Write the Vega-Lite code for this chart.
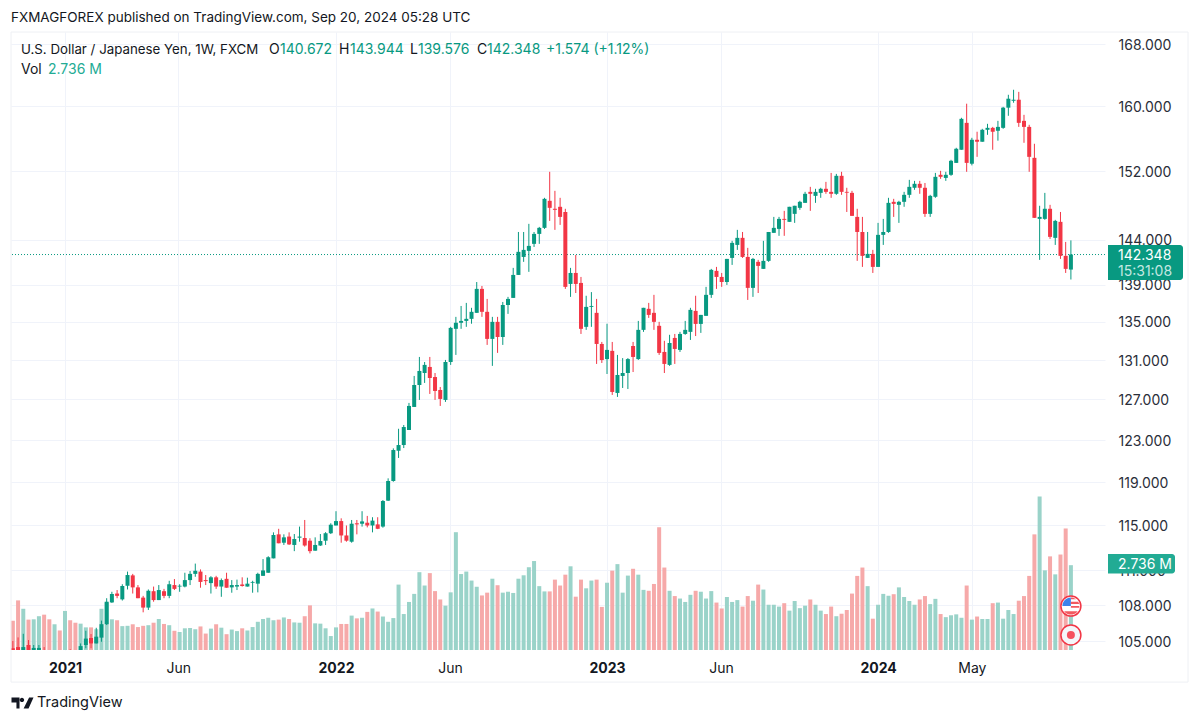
{"$schema":"https://vega.github.io/schema/vega-lite/v6.json","autosize":{"type":"none"},"width":1094,"height":618,"padding":{"left":11,"top":32,"right":95,"bottom":72},"background":"#ffffff","title":{"text":"FXMAGFOREX published on TradingView.com, Sep 20, 2024 05:28 UTC","anchor":"start","frame":"group","offset":7,"font":"Inter","fontSize":13.5,"fontWeight":"normal","color":"#131722"},"config":{"view":{"stroke":null},"text":{"font":"Inter","fontSize":14,"align":"left","baseline":"middle"}},"datasets":{"candles":[
{"t":"2020-10-26","o":104.4,"h":105.0,"l":103.6,"c":104.0,"v":0.94},
{"t":"2020-11-02","o":104.5,"h":105.3,"l":103.5,"c":103.9,"v":1.60},
{"t":"2020-11-09","o":103.9,"h":105.6,"l":103.6,"c":104.5,"v":1.33},
{"t":"2020-11-16","o":104.67,"h":105.08,"l":103.6,"c":104.0,"v":0.98},
{"t":"2020-11-23","o":103.9,"h":104.67,"l":103.5,"c":104.43,"v":0.99},
{"t":"2020-11-30","o":103.9,"h":104.67,"l":103.5,"c":104.43,"v":1.09},
{"t":"2020-12-07","o":104.1,"h":104.5,"l":103.4,"c":103.7,"v":1.14},
{"t":"2020-12-14","o":103.8,"h":104.0,"l":103.0,"c":103.3,"v":0.99},
{"t":"2020-12-21","o":103.3,"h":104.0,"l":103.0,"c":103.7,"v":0.83},
{"t":"2020-12-28","o":103.6,"h":103.9,"l":102.9,"c":103.2,"v":0.63},
{"t":"2021-01-04","o":103.1,"h":104.0,"l":102.8,"c":103.6,"v":1.26},
{"t":"2021-01-11","o":104.0,"h":104.32,"l":103.1,"c":103.4,"v":0.96},
{"t":"2021-01-18","o":103.7,"h":104.0,"l":103.0,"c":103.3,"v":0.88},
{"t":"2021-01-25","o":104.0,"h":104.8,"l":103.8,"c":104.58,"v":0.85},
{"t":"2021-02-01","o":104.67,"h":105.85,"l":104.4,"c":105.2,"v":0.73},
{"t":"2021-02-08","o":105.25,"h":105.58,"l":104.4,"c":104.8,"v":0.73},
{"t":"2021-02-15","o":104.8,"h":106.1,"l":104.8,"c":105.36,"v":0.67},
{"t":"2021-02-22","o":105.28,"h":106.7,"l":104.94,"c":106.4,"v":1.33},
{"t":"2021-03-01","o":106.4,"h":108.6,"l":106.33,"c":108.3,"v":1.53},
{"t":"2021-03-08","o":108.24,"h":109.15,"l":108.2,"c":108.96,"v":0.99},
{"t":"2021-03-15","o":109.0,"h":109.3,"l":108.6,"c":108.8,"v":0.96},
{"t":"2021-03-22","o":108.5,"h":109.8,"l":108.4,"c":109.65,"v":0.77},
{"t":"2021-03-29","o":109.67,"h":110.9,"l":109.35,"c":110.6,"v":0.78},
{"t":"2021-04-05","o":110.57,"h":110.7,"l":109.0,"c":109.53,"v":0.83},
{"t":"2021-04-12","o":109.53,"h":109.73,"l":108.6,"c":108.6,"v":0.74},
{"t":"2021-04-19","o":108.65,"h":108.8,"l":107.4,"c":107.8,"v":0.78},
{"t":"2021-04-26","o":107.8,"h":109.35,"l":107.6,"c":109.24,"v":0.80},
{"t":"2021-05-03","o":109.2,"h":109.6,"l":108.3,"c":108.44,"v":0.88},
{"t":"2021-05-10","o":108.44,"h":109.73,"l":108.44,"c":109.3,"v":1.00},
{"t":"2021-05-17","o":109.2,"h":109.4,"l":108.6,"c":108.8,"v":0.84},
{"t":"2021-05-24","o":108.8,"h":110.1,"l":108.6,"c":109.8,"v":0.80},
{"t":"2021-05-31","o":109.73,"h":110.25,"l":109.3,"c":109.4,"v":0.62},
{"t":"2021-06-07","o":109.6,"h":109.8,"l":109.15,"c":109.67,"v":0.58},
{"t":"2021-06-14","o":109.6,"h":110.8,"l":109.53,"c":110.16,"v":0.70},
{"t":"2021-06-21","o":110.16,"h":110.95,"l":109.73,"c":110.7,"v":0.71},
{"t":"2021-06-28","o":110.7,"h":111.6,"l":110.45,"c":110.97,"v":0.67},
{"t":"2021-07-05","o":110.9,"h":111.09,"l":109.5,"c":110.0,"v":0.76},
{"t":"2021-07-12","o":110.16,"h":110.6,"l":109.73,"c":110.07,"v":0.53},
{"t":"2021-07-19","o":109.9,"h":110.5,"l":109.0,"c":110.4,"v":0.69},
{"t":"2021-07-26","o":110.4,"h":110.53,"l":109.4,"c":109.6,"v":0.83},
{"t":"2021-08-02","o":109.6,"h":110.3,"l":108.72,"c":110.16,"v":0.72},
{"t":"2021-08-09","o":110.27,"h":110.8,"l":109.5,"c":109.5,"v":0.51},
{"t":"2021-08-16","o":109.53,"h":110.16,"l":109.07,"c":109.73,"v":0.66},
{"t":"2021-08-23","o":109.6,"h":110.2,"l":109.3,"c":109.73,"v":0.61},
{"t":"2021-08-30","o":109.78,"h":110.4,"l":109.6,"c":109.65,"v":0.70},
{"t":"2021-09-06","o":109.6,"h":110.37,"l":109.6,"c":109.85,"v":0.63},
{"t":"2021-09-13","o":109.93,"h":110.1,"l":109.07,"c":110.0,"v":0.74},
{"t":"2021-09-20","o":109.85,"h":110.8,"l":109.1,"c":110.7,"v":0.91},
{"t":"2021-09-27","o":110.53,"h":112.0,"l":110.53,"c":111.0,"v":1.00},
{"t":"2021-10-04","o":110.8,"h":112.25,"l":110.8,"c":112.17,"v":1.04},
{"t":"2021-10-11","o":112.06,"h":114.38,"l":112.06,"c":114.14,"v":0.96},
{"t":"2021-10-18","o":114.2,"h":114.7,"l":113.4,"c":113.4,"v":0.98},
{"t":"2021-10-25","o":113.45,"h":114.2,"l":113.25,"c":113.93,"v":1.05},
{"t":"2021-11-01","o":114.0,"h":114.38,"l":113.25,"c":113.3,"v":1.00},
{"t":"2021-11-08","o":113.25,"h":114.23,"l":112.7,"c":113.78,"v":0.89},
{"t":"2021-11-15","o":113.9,"h":114.9,"l":113.54,"c":114.0,"v":0.88},
{"t":"2021-11-22","o":113.87,"h":115.5,"l":113.1,"c":113.2,"v":1.09},
{"t":"2021-11-29","o":113.63,"h":113.85,"l":112.5,"c":112.7,"v":1.44},
{"t":"2021-12-06","o":112.74,"h":113.93,"l":112.74,"c":113.25,"v":0.86},
{"t":"2021-12-13","o":113.2,"h":114.23,"l":113.16,"c":113.6,"v":0.85},
{"t":"2021-12-20","o":113.63,"h":114.4,"l":113.25,"c":114.3,"v":0.70},
{"t":"2021-12-27","o":114.3,"h":115.2,"l":114.23,"c":115.07,"v":0.45},
{"t":"2022-01-03","o":115.0,"h":116.3,"l":115.0,"c":115.4,"v":0.73},
{"t":"2022-01-10","o":115.4,"h":115.65,"l":113.45,"c":114.1,"v":0.84},
{"t":"2022-01-17","o":114.1,"h":115.0,"l":113.54,"c":113.63,"v":0.84},
{"t":"2022-01-24","o":113.54,"h":115.5,"l":113.45,"c":115.16,"v":1.11},
{"t":"2022-01-31","o":115.2,"h":115.5,"l":114.2,"c":115.1,"v":1.02},
{"t":"2022-02-07","o":115.16,"h":116.3,"l":114.9,"c":115.37,"v":1.04},
{"t":"2022-02-14","o":115.25,"h":115.87,"l":114.83,"c":115.0,"v":1.23},
{"t":"2022-02-21","o":115.0,"h":115.75,"l":114.38,"c":115.44,"v":1.34},
{"t":"2022-02-28","o":115.1,"h":115.75,"l":114.67,"c":114.7,"v":1.24},
{"t":"2022-03-07","o":114.9,"h":117.33,"l":114.8,"c":117.24,"v":1.08},
{"t":"2022-03-14","o":117.27,"h":119.35,"l":117.24,"c":119.1,"v":0.91},
{"t":"2022-03-21","o":119.1,"h":122.2,"l":119.03,"c":122.04,"v":1.03},
{"t":"2022-03-28","o":121.97,"h":124.1,"l":121.28,"c":122.52,"v":2.11},
{"t":"2022-04-04","o":122.52,"h":124.47,"l":122.23,"c":124.27,"v":1.16},
{"t":"2022-04-11","o":123.98,"h":126.65,"l":123.98,"c":126.35,"v":1.55},
{"t":"2022-04-18","o":126.25,"h":129.37,"l":126.25,"c":128.45,"v":1.81},
{"t":"2022-04-25","o":128.45,"h":131.32,"l":126.95,"c":129.88,"v":2.51},
{"t":"2022-05-02","o":129.67,"h":130.8,"l":128.66,"c":130.5,"v":2.08},
{"t":"2022-05-09","o":130.29,"h":131.32,"l":127.55,"c":129.16,"v":2.48},
{"t":"2022-05-16","o":129.26,"h":129.67,"l":126.95,"c":127.85,"v":1.90},
{"t":"2022-05-23","o":127.95,"h":128.25,"l":126.35,"c":127.05,"v":1.63},
{"t":"2022-05-30","o":126.95,"h":131.01,"l":126.75,"c":130.8,"v":1.43},
{"t":"2022-06-06","o":130.8,"h":134.47,"l":130.5,"c":134.36,"v":1.86},
{"t":"2022-06-13","o":134.26,"h":135.53,"l":131.53,"c":134.9,"v":3.80},
{"t":"2022-06-20","o":134.9,"h":136.7,"l":134.26,"c":135.1,"v":2.45},
{"t":"2022-06-27","o":135.1,"h":137.03,"l":134.47,"c":135.32,"v":2.53},
{"t":"2022-07-04","o":135.32,"h":136.5,"l":134.8,"c":136.07,"v":2.24},
{"t":"2022-07-11","o":135.96,"h":139.3,"l":135.96,"c":138.55,"v":2.04},
{"t":"2022-07-18","o":138.55,"h":138.87,"l":135.53,"c":136.07,"v":1.76},
{"t":"2022-07-25","o":136.07,"h":137.46,"l":132.57,"c":133.2,"v":1.85},
{"t":"2022-08-01","o":133.2,"h":135.53,"l":130.4,"c":135.0,"v":2.30},
{"t":"2022-08-08","o":135.0,"h":135.53,"l":131.74,"c":133.4,"v":2.09},
{"t":"2022-08-15","o":133.4,"h":137.13,"l":132.57,"c":136.8,"v":1.85},
{"t":"2022-08-22","o":136.8,"h":137.68,"l":135.85,"c":137.46,"v":1.88},
{"t":"2022-08-29","o":137.57,"h":140.86,"l":137.57,"c":140.08,"v":1.84},
{"t":"2022-09-05","o":140.08,"h":144.9,"l":140.08,"c":142.65,"v":2.30},
{"t":"2022-09-12","o":142.08,"h":144.9,"l":141.53,"c":142.87,"v":2.41},
{"t":"2022-09-19","o":142.76,"h":145.83,"l":140.42,"c":143.32,"v":2.67},
{"t":"2022-09-26","o":143.55,"h":144.9,"l":143.2,"c":144.68,"v":2.87},
{"t":"2022-10-03","o":144.68,"h":145.48,"l":143.55,"c":145.37,"v":2.06},
{"t":"2022-10-10","o":145.37,"h":148.85,"l":145.25,"c":148.73,"v":1.89},
{"t":"2022-10-17","o":148.5,"h":151.93,"l":146.17,"c":147.68,"v":1.89},
{"t":"2022-10-24","o":147.57,"h":149.67,"l":145.14,"c":147.45,"v":2.27},
{"t":"2022-10-31","o":147.8,"h":148.85,"l":145.71,"c":146.63,"v":2.08},
{"t":"2022-11-07","o":147.2,"h":147.57,"l":138.55,"c":138.77,"v":2.43},
{"t":"2022-11-14","o":139.09,"h":140.86,"l":137.68,"c":140.3,"v":2.70},
{"t":"2022-11-21","o":140.3,"h":142.3,"l":138.1,"c":139.09,"v":1.72},
{"t":"2022-11-28","o":139.2,"h":139.86,"l":133.72,"c":134.26,"v":2.27},
{"t":"2022-12-05","o":134.47,"h":137.8,"l":134.15,"c":136.6,"v":1.99},
{"t":"2022-12-12","o":136.6,"h":138.2,"l":134.47,"c":136.7,"v":2.24},
{"t":"2022-12-19","o":135.96,"h":137.46,"l":130.6,"c":132.67,"v":2.27},
{"t":"2022-12-26","o":132.67,"h":132.88,"l":130.7,"c":131.0,"v":1.39},
{"t":"2023-01-02","o":131.1,"h":134.8,"l":129.57,"c":132.05,"v":2.17},
{"t":"2023-01-09","o":131.95,"h":132.88,"l":127.45,"c":127.75,"v":2.56},
{"t":"2023-01-16","o":127.65,"h":131.53,"l":127.25,"c":129.47,"v":2.77},
{"t":"2023-01-23","o":129.37,"h":131.2,"l":128.15,"c":129.67,"v":1.85},
{"t":"2023-01-30","o":129.67,"h":131.2,"l":128.05,"c":131.1,"v":2.40},
{"t":"2023-02-06","o":132.46,"h":132.88,"l":129.77,"c":131.32,"v":2.62},
{"t":"2023-02-13","o":131.1,"h":135.1,"l":131.01,"c":134.15,"v":2.43},
{"t":"2023-02-20","o":134.15,"h":136.5,"l":133.94,"c":136.5,"v":1.94},
{"t":"2023-02-27","o":136.39,"h":137.03,"l":135.42,"c":135.74,"v":1.91},
{"t":"2023-03-06","o":135.96,"h":137.9,"l":134.15,"c":135.0,"v":2.13},
{"t":"2023-03-13","o":134.58,"h":135.0,"l":131.53,"c":131.74,"v":3.96},
{"t":"2023-03-20","o":131.84,"h":133.0,"l":129.67,"c":130.6,"v":2.66},
{"t":"2023-03-27","o":130.5,"h":133.63,"l":130.4,"c":132.77,"v":1.91},
{"t":"2023-04-03","o":133.3,"h":133.72,"l":130.6,"c":132.15,"v":1.74},
{"t":"2023-04-10","o":132.05,"h":133.94,"l":131.84,"c":133.72,"v":1.66},
{"t":"2023-04-17","o":133.72,"h":135.1,"l":133.63,"c":134.15,"v":1.55},
{"t":"2023-04-24","o":133.94,"h":136.5,"l":133.09,"c":136.28,"v":1.78},
{"t":"2023-05-01","o":136.17,"h":137.8,"l":133.5,"c":134.78,"v":1.91},
{"t":"2023-05-08","o":134.78,"h":135.74,"l":133.83,"c":135.74,"v":1.88},
{"t":"2023-05-15","o":135.64,"h":138.77,"l":135.64,"c":137.9,"v":1.66},
{"t":"2023-05-22","o":137.9,"h":140.75,"l":137.57,"c":140.64,"v":1.90},
{"t":"2023-05-29","o":140.53,"h":140.97,"l":138.55,"c":139.86,"v":1.53},
{"t":"2023-06-05","o":139.86,"h":140.3,"l":138.77,"c":139.3,"v":1.34},
{"t":"2023-06-12","o":139.3,"h":141.86,"l":138.98,"c":141.86,"v":1.71},
{"t":"2023-06-19","o":141.97,"h":143.89,"l":141.19,"c":143.66,"v":1.55},
{"t":"2023-06-26","o":143.43,"h":145.14,"l":142.87,"c":144.23,"v":1.61},
{"t":"2023-07-03","o":144.23,"h":144.9,"l":141.97,"c":142.08,"v":1.40},
{"t":"2023-07-10","o":142.08,"h":143.1,"l":137.35,"c":138.66,"v":1.74},
{"t":"2023-07-17","o":138.66,"h":141.97,"l":137.68,"c":141.86,"v":1.59},
{"t":"2023-07-24","o":141.53,"h":141.75,"l":138.1,"c":141.08,"v":2.11},
{"t":"2023-07-31","o":140.75,"h":143.89,"l":140.75,"c":141.64,"v":1.95},
{"t":"2023-08-07","o":141.64,"h":144.9,"l":141.53,"c":144.9,"v":1.46},
{"t":"2023-08-14","o":144.8,"h":146.63,"l":144.8,"c":145.37,"v":1.46},
{"t":"2023-08-21","o":145.25,"h":146.63,"l":144.46,"c":146.4,"v":1.40},
{"t":"2023-08-28","o":146.4,"h":147.33,"l":144.46,"c":146.29,"v":1.51},
{"t":"2023-09-04","o":146.06,"h":147.8,"l":146.06,"c":147.8,"v":1.27},
{"t":"2023-09-11","o":146.98,"h":147.92,"l":145.94,"c":147.92,"v":1.58},
{"t":"2023-09-18","o":147.68,"h":148.5,"l":147.45,"c":148.38,"v":1.35},
{"t":"2023-09-25","o":148.26,"h":149.55,"l":148.26,"c":149.32,"v":1.43},
{"t":"2023-10-02","o":149.55,"h":150.14,"l":147.33,"c":149.32,"v":1.63},
{"t":"2023-10-09","o":149.08,"h":149.91,"l":148.26,"c":149.55,"v":1.46},
{"t":"2023-10-16","o":149.43,"h":150.03,"l":148.85,"c":149.91,"v":1.27},
{"t":"2023-10-23","o":149.91,"h":150.73,"l":149.32,"c":149.55,"v":1.16},
{"t":"2023-10-30","o":149.55,"h":151.8,"l":148.85,"c":149.32,"v":1.40},
{"t":"2023-11-06","o":149.32,"h":151.68,"l":149.2,"c":151.45,"v":1.09},
{"t":"2023-11-13","o":151.45,"h":151.93,"l":149.2,"c":149.55,"v":1.17},
{"t":"2023-11-20","o":149.55,"h":150.03,"l":147.2,"c":149.45,"v":1.29},
{"t":"2023-11-27","o":149.43,"h":149.67,"l":146.75,"c":146.75,"v":1.82},
{"t":"2023-12-04","o":146.63,"h":147.57,"l":141.64,"c":144.9,"v":2.39},
{"t":"2023-12-11","o":144.9,"h":146.63,"l":140.97,"c":142.2,"v":2.66},
{"t":"2023-12-18","o":141.97,"h":144.9,"l":141.97,"c":142.42,"v":2.06},
{"t":"2023-12-25","o":142.42,"h":142.87,"l":140.3,"c":140.97,"v":1.01},
{"t":"2024-01-01","o":140.97,"h":145.94,"l":140.97,"c":144.57,"v":1.46},
{"t":"2024-01-08","o":144.57,"h":146.4,"l":143.43,"c":144.9,"v":1.81},
{"t":"2024-01-15","o":144.9,"h":148.85,"l":144.8,"c":148.26,"v":1.75},
{"t":"2024-01-22","o":148.38,"h":148.73,"l":146.63,"c":148.14,"v":1.80},
{"t":"2024-01-29","o":148.03,"h":148.5,"l":145.94,"c":148.38,"v":2.02},
{"t":"2024-02-05","o":148.38,"h":149.55,"l":147.8,"c":149.2,"v":1.71},
{"t":"2024-02-12","o":149.2,"h":150.97,"l":148.85,"c":150.14,"v":1.58},
{"t":"2024-02-19","o":150.03,"h":150.85,"l":149.79,"c":150.5,"v":1.46},
{"t":"2024-02-26","o":150.5,"h":150.85,"l":149.32,"c":150.03,"v":1.63},
{"t":"2024-03-04","o":150.03,"h":150.6,"l":146.63,"c":146.98,"v":1.74},
{"t":"2024-03-11","o":146.98,"h":149.2,"l":146.63,"c":149.08,"v":1.48},
{"t":"2024-03-18","o":148.97,"h":151.8,"l":148.85,"c":151.33,"v":1.65},
{"t":"2024-03-25","o":151.57,"h":152.05,"l":151.09,"c":151.33,"v":1.16},
{"t":"2024-04-01","o":151.2,"h":151.93,"l":150.85,"c":151.57,"v":1.06},
{"t":"2024-04-08","o":151.57,"h":153.37,"l":151.45,"c":153.25,"v":1.12},
{"t":"2024-04-15","o":153.0,"h":154.83,"l":153.0,"c":154.71,"v":1.15},
{"t":"2024-04-22","o":154.59,"h":158.53,"l":154.59,"c":158.4,"v":1.04},
{"t":"2024-04-29","o":157.9,"h":160.3,"l":151.93,"c":153.0,"v":2.08},
{"t":"2024-05-06","o":152.9,"h":156.05,"l":152.7,"c":155.81,"v":0.98},
{"t":"2024-05-13","o":155.81,"h":156.8,"l":153.73,"c":155.57,"v":1.08},
{"t":"2024-05-20","o":155.57,"h":157.16,"l":155.57,"c":157.04,"v":1.00},
{"t":"2024-05-27","o":157.04,"h":157.78,"l":156.42,"c":157.28,"v":1.00},
{"t":"2024-06-03","o":157.28,"h":157.4,"l":154.59,"c":156.8,"v":1.51},
{"t":"2024-06-10","o":156.92,"h":158.15,"l":155.7,"c":157.4,"v":1.53},
{"t":"2024-06-17","o":157.28,"h":159.9,"l":157.16,"c":159.8,"v":1.01},
{"t":"2024-06-24","o":159.8,"h":161.43,"l":158.78,"c":160.93,"v":1.29},
{"t":"2024-07-01","o":160.67,"h":162.07,"l":160.42,"c":160.8,"v":1.16},
{"t":"2024-07-08","o":160.8,"h":161.8,"l":157.4,"c":157.9,"v":1.59},
{"t":"2024-07-15","o":158.15,"h":158.9,"l":155.44,"c":157.4,"v":1.74},
{"t":"2024-07-22","o":157.4,"h":157.66,"l":151.93,"c":153.73,"v":2.39},
{"t":"2024-07-29","o":153.61,"h":155.32,"l":146.52,"c":146.52,"v":3.73},
{"t":"2024-08-05","o":146.4,"h":147.92,"l":141.75,"c":146.63,"v":4.95},
{"t":"2024-08-12","o":146.4,"h":149.43,"l":146.29,"c":147.57,"v":2.57},
{"t":"2024-08-19","o":147.57,"h":148.03,"l":144.11,"c":144.34,"v":3.02},
{"t":"2024-08-26","o":144.23,"h":146.29,"l":143.43,"c":146.17,"v":2.44},
{"t":"2024-09-02","o":146.06,"h":147.2,"l":141.86,"c":142.2,"v":3.08},
{"t":"2024-09-09","o":142.2,"h":143.77,"l":140.3,"c":140.75,"v":3.92},
{"t":"2024-09-16","o":140.672,"h":143.944,"l":139.576,"c":142.348,"v":2.736}
]},
"layer":[
{"data":{"values":[{"last":142.348}]},"mark":{"type":"rule","color":"#089981","strokeWidth":1,"strokeDash":[1,2]},"encoding":{"y":{"field":"last","type":"quantitative","title":null,"scale":{"type":"log","domain":[104.26,169.61],"nice":false,"zero":false},"axis":{"orient":"right","values":[105,108,111,115,119,123,127,131,135,139,144,152,160,168],"format":".3f","grid":true,"gridColor":"#f0f3fa","gridWidth":1,"ticks":false,"domain":false,"labelPadding":13,"labelOffset":1,"labelFont":"Inter","labelFontSize":14,"labelColor":"#2a2e39","labelBound":false,"labelOverlap":false,"title":null}}}},
{"data":{"name":"candles"},"mark":{"type":"bar","width":4},"encoding":{"x":{"field":"t","type":"temporal","title":null,"scale":{"type":"utc","domain":[1603454400000,1730401920000],"nice":false,"padding":0},"axis":{"values":[1609718400000,1622851200000,1641168000000,1654387200000,1672617600000,1685836800000,1704067200000,1714953600000],"grid":true,"gridColor":"#f0f3fa","gridWidth":1,"ticks":false,"domain":false,"labelPadding":11,"labelFont":"Inter","labelFontSize":14,"labelColor":"#131722","labelFontWeight":{"expr":"utcmonth(datum.value)==0?'bold':'normal'"},"labelExpr":"utcmonth(datum.value)==0?utcFormat(datum.value,'%Y'):utcFormat(datum.value,'%b')","labelOverlap":false,"title":null}},"y":{"field":"v","type":"quantitative","title":null,"scale":{"domain":[0,19.935],"nice":false,"zero":false},"axis":null},"color":{"condition":{"test":"datum.c>=datum.o","value":"#9ad3c9"},"value":"#f6a9a9"}}},
{"layer":[
{"data":{"name":"candles"},"mark":{"type":"rule","strokeWidth":1,"clip":true},"encoding":{"x":{"field":"t","type":"temporal","title":null},"y":{"field":"l","type":"quantitative","title":null,"scale":{"type":"log","domain":[104.26,169.61],"nice":false,"zero":false},"axis":null},"y2":{"field":"h"},"color":{"condition":{"test":"datum.c>=datum.o","value":"#089981"},"value":"#f23645"}}},
{"data":{"name":"candles"},"mark":{"type":"bar","width":4,"clip":true},"encoding":{"x":{"field":"t","type":"temporal","title":null},"y":{"field":"o","type":"quantitative","title":null},"y2":{"field":"c"},"color":{"condition":{"test":"datum.c>=datum.o","value":"#089981"},"value":"#f23645"}}},
{"data":{"values":[{"edge":"left"}]},"mark":{"type":"rule","color":"#eef0f4"},"encoding":{"x":{"datum":1603454400000,"type":"temporal"},"y":{"datum":169.61,"type":"quantitative"},"y2":{"datum":101.66}}},
{"data":{"values":[{"edge":"right"}]},"mark":{"type":"rule","color":"#eef0f4"},"encoding":{"x":{"datum":1740033480000,"type":"temporal"},"y":{"datum":169.61,"type":"quantitative"},"y2":{"datum":101.66}}},
{"data":{"values":[{"edge":"top"}]},"mark":{"type":"rule","color":"#eef0f4"},"encoding":{"x":{"datum":1603454400000,"type":"temporal"},"x2":{"datum":1740033480000},"y":{"datum":169.61,"type":"quantitative"}}},
{"data":{"values":[{"edge":"bottom"}]},"mark":{"type":"rule","color":"#eef0f4"},"encoding":{"x":{"datum":1603454400000,"type":"temporal"},"x2":{"datum":1740033480000},"y":{"datum":101.66,"type":"quantitative"}}},
{"data":{"values":[{"tag":"price"}]},"mark":{"type":"rect","color":"#089981","cornerRadiusTopRight":3,"cornerRadiusBottomRight":3},"encoding":{"x":{"datum":1730750280000,"type":"temporal"},"x2":{"datum":1739453280000},"y":{"datum":143.42,"type":"quantitative"},"y2":{"datum":139.52}}},
{"data":{"values":[{"tag":"volume"}]},"mark":{"type":"rect","color":"#22ab94","cornerRadiusTopRight":3,"cornerRadiusBottomRight":3},"encoding":{"x":{"datum":1730750280000,"type":"temporal"},"x2":{"datum":1738524960000},"y":{"datum":112.44,"type":"quantitative"},"y2":{"datum":110.73}}},
{"data":{"values":[{"label":"142.348"}]},"mark":{"type":"text","color":"#ffffff"},"encoding":{"x":{"datum":1731910680000,"type":"temporal"},"y":{"datum":142.18,"type":"quantitative"},"text":{"field":"label"}}},
{"data":{"values":[{"label":"15:31:08"}]},"mark":{"type":"text","color":"#c4e8e1"},"encoding":{"x":{"datum":1731910680000,"type":"temporal"},"y":{"datum":140.35,"type":"quantitative"},"text":{"field":"label"}}},
{"data":{"values":[{"label":"2.736 M"}]},"mark":{"type":"text","color":"#ffffff"},"encoding":{"x":{"datum":1731910680000,"type":"temporal"},"y":{"datum":111.47,"type":"quantitative"},"text":{"field":"label"}}},
{"data":{"values":[{"label":"U.S. Dollar / Japanese Yen, 1W, FXCM"}]},"mark":{"type":"text","color":"#131722","fontSize":13.3},"encoding":{"x":{"datum":1604614800000,"type":"temporal"},"y":{"datum":167.22,"type":"quantitative"},"text":{"field":"label"}}},
{"data":{"values":[{"label":"O"}]},"mark":{"type":"text","color":"#131722"},"encoding":{"x":{"datum":1633392720000,"type":"temporal"},"y":{"datum":167.22,"type":"quantitative"},"text":{"field":"label"}}},
{"data":{"values":[{"label":"140.672"}]},"mark":{"type":"text","color":"#089981"},"encoding":{"x":{"datum":1634669160000,"type":"temporal"},"y":{"datum":167.22,"type":"quantitative"},"text":{"field":"label"}}},
{"data":{"values":[{"label":"H"}]},"mark":{"type":"text","color":"#131722"},"encoding":{"x":{"datum":1641515520000,"type":"temporal"},"y":{"datum":167.22,"type":"quantitative"},"text":{"field":"label"}}},
{"data":{"values":[{"label":"143.944"}]},"mark":{"type":"text","color":"#089981"},"encoding":{"x":{"datum":1642791960000,"type":"temporal"},"y":{"datum":167.22,"type":"quantitative"},"text":{"field":"label"}}},
{"data":{"values":[{"label":"L"}]},"mark":{"type":"text","color":"#131722"},"encoding":{"x":{"datum":1649754360000,"type":"temporal"},"y":{"datum":167.22,"type":"quantitative"},"text":{"field":"label"}}},
{"data":{"values":[{"label":"139.576"}]},"mark":{"type":"text","color":"#089981"},"encoding":{"x":{"datum":1650682680000,"type":"temporal"},"y":{"datum":167.22,"type":"quantitative"},"text":{"field":"label"}}},
{"data":{"values":[{"label":"C"}]},"mark":{"type":"text","color":"#131722"},"encoding":{"x":{"datum":1657529040000,"type":"temporal"},"y":{"datum":167.22,"type":"quantitative"},"text":{"field":"label"}}},
{"data":{"values":[{"label":"142.348"}]},"mark":{"type":"text","color":"#089981"},"encoding":{"x":{"datum":1658689440000,"type":"temporal"},"y":{"datum":167.22,"type":"quantitative"},"text":{"field":"label"}}},
{"data":{"values":[{"label":"+1.574 (+1.12%)"}]},"mark":{"type":"text","color":"#089981"},"encoding":{"x":{"datum":1665535800000,"type":"temporal"},"y":{"datum":167.22,"type":"quantitative"},"text":{"field":"label"}}},
{"data":{"values":[{"label":"Vol"}]},"mark":{"type":"text","color":"#131722"},"encoding":{"x":{"datum":1604614800000,"type":"temporal"},"y":{"datum":164.61,"type":"quantitative"},"text":{"field":"label"}}},
{"data":{"values":[{"label":"2.736 M"}]},"mark":{"type":"text","color":"#22ab94"},"encoding":{"x":{"datum":1607747880000,"type":"temporal"},"y":{"datum":164.61,"type":"quantitative"},"text":{"field":"label"}}},
{"data":{"values":[{"label":"TradingView"}]},"mark":{"type":"text","color":"#131722","fontSize":14.5},"encoding":{"x":{"datum":1606471440000,"type":"temporal"},"y":{"datum":100.0,"type":"quantitative"},"text":{"field":"label"}}},
{"data":{"values":[{"icon":"logo"}]},"mark":{"type":"point","filled":true,"color":"#131722","opacity":1,"size":484,"shape":"M-1,-0.5 L-0.27,-0.5 L-0.27,0.5 L-0.55,0.5 L-0.55,-0.05 L-1,-0.05 Z M-0.25,-0.28 A0.2,0.2 0 1 1 0.15,-0.28 A0.2,0.2 0 1 1 -0.25,-0.28 Z M0.6,-0.5 L1,-0.5 L0.55,0.5 L0.1,0.5 Z"},"encoding":{"x":{"datum":1604788860000,"type":"temporal"},"y":{"datum":100.0,"type":"quantitative"}}},
{"data":{"values":[{"icon":"us"}]},"mark":{"type":"point","shape":"circle","filled":true,"fill":"#ffffff","stroke":"#f23645","strokeWidth":1.5,"opacity":1,"size":400},"encoding":{"x":{"datum":1726444800000,"type":"temporal"},"y":{"datum":107.93,"type":"quantitative"}}},
{"data":{"values":[{"icon":"us-canton"}]},"mark":{"type":"point","filled":true,"color":"#3b82ea","opacity":1,"size":289,"shape":"M0,0 L-1,0 A1,1 0 0 1 0,-1 Z"},"encoding":{"x":{"datum":1726444800000,"type":"temporal"},"y":{"datum":107.93,"type":"quantitative"}}},
{"data":{"values":[{"icon":"us-stripes"}]},"mark":{"type":"point","filled":true,"color":"#f25a5f","opacity":1,"size":289,"shape":"M0,-1 A1,1 0 0 1 0.6,-0.8 L0,-0.8 Z M0,-0.5 L0.87,-0.5 L0.97,-0.25 L0,-0.25 Z M0,0 L1,0 L0.98,0.2 L0,0.2 Z M-0.8,0.6 L0.8,0.6 A1,1 0 0 1 -0.8,0.6 Z"},"encoding":{"x":{"datum":1726444800000,"type":"temporal"},"y":{"datum":107.93,"type":"quantitative"}}},
{"data":{"values":[{"icon":"jp"}]},"mark":{"type":"point","shape":"circle","filled":true,"fill":"#f4f6fa","stroke":"#f23645","strokeWidth":1.5,"opacity":1,"size":400},"encoding":{"x":{"datum":1726444800000,"type":"temporal"},"y":{"datum":105.5,"type":"quantitative"}}},
{"data":{"values":[{"icon":"jp-dot"}]},"mark":{"type":"point","shape":"circle","filled":true,"color":"#f5515f","opacity":1,"size":64},"encoding":{"x":{"datum":1726444800000,"type":"temporal"},"y":{"datum":105.5,"type":"quantitative"}}}
]}
],"resolve":{"scale":{"y":"independent"},"axis":{"y":"independent"}}}
